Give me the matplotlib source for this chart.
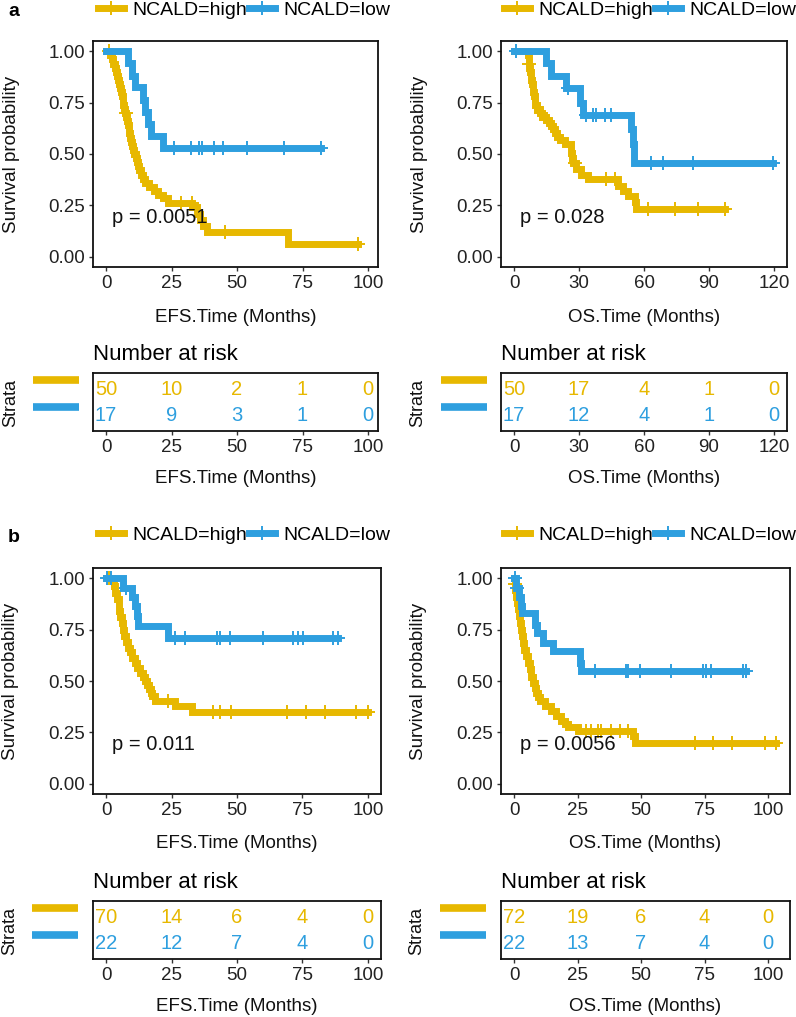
"""Kaplan-Meier curves (EFS / OS) for NCALD high vs low, with number-at-risk tables."""

import matplotlib
matplotlib.use("Agg")
import matplotlib.pyplot as plt
import numpy as np
from matplotlib.lines import Line2D

plt.rcParams["font.family"] = ["Liberation Sans", "DejaVu Sans"]

HIGH = "#E7B800"
LOW = "#2E9FDF"
GROUPS = ["NCALD=high", "NCALD=low"]

# ---- panel a, EFS ----
a_efs_high_t = [0, 1.5, 2.2, 2.8, 3.3, 3.8, 4.2, 4.6, 5.0, 5.3, 5.6, 6.0, 6.3, 6.6, 6.9, 7.2,
                7.6, 7.9, 8.3, 8.6, 8.9, 9.3, 9.7, 10.0, 10.4, 10.8, 11.3, 11.7, 12.2, 12.7,
                13.3, 14.0, 15.0, 16.5, 18.5, 20.0, 21.9, 23.5, 33.0, 34.6, 35.8, 37.1, 38.6,
                69.5, 96.2]
a_efs_high_s = [1.00, 0.98, 0.96, 0.94, 0.92, 0.90, 0.88, 0.86, 0.84, 0.82, 0.80, 0.78, 0.76,
                0.74, 0.72, 0.70, 0.68, 0.66, 0.64, 0.62, 0.60, 0.58, 0.56, 0.54, 0.52, 0.50,
                0.48, 0.46, 0.44, 0.42, 0.40, 0.38, 0.36, 0.34, 0.32, 0.30, 0.285, 0.26, 0.24,
                0.21, 0.18, 0.15, 0.12, 0.06, 0.06]
a_efs_high_cens = [1.0, 7.5, 28.8, 32.7, 45.4, 96.2]
a_efs_low_t = [0, 8.5, 9.8, 11.0, 14.2, 15.0, 16.0, 17.0, 21.6, 82.2]
a_efs_low_s = [1.0, 0.941, 0.882, 0.824, 0.765, 0.706, 0.647, 0.588, 0.529, 0.529]
a_efs_low_cens = [25.9, 32.3, 35.5, 36.8, 41.2, 44.5, 53.9, 67.9, 82.2]

# ---- panel a, OS ----
a_os_high_t = [0, 6.5, 6.7, 6.9, 7.1, 7.4, 7.7, 8.0, 8.3, 8.6, 8.9, 9.2, 9.5, 9.8, 10.5, 11.8,
               13.0, 14.9, 16.0, 17.2, 18.0, 18.8, 20.0, 21.1, 23.4, 26.5, 26.8, 27.2, 28.8,
               31.0, 34.2, 48.0, 50.5, 52.6, 55.7, 56.5, 97.2]
a_os_high_s = [1.0, 0.98, 0.96, 0.94, 0.92, 0.90, 0.88, 0.86, 0.84, 0.82, 0.80, 0.78, 0.76,
               0.74, 0.72, 0.70, 0.68, 0.667, 0.65, 0.635, 0.62, 0.603, 0.585, 0.57, 0.547,
               0.506, 0.48, 0.458, 0.426, 0.40, 0.378, 0.346, 0.32, 0.297, 0.265, 0.233, 0.233]
a_os_high_cens = [6.9, 12.6, 28.0, 42.6, 46.5, 61.8, 74.2, 84.9, 97.2]
a_os_low_t = [0, 14.9, 16.9, 24.0, 30.3, 31.8, 54.2, 54.8, 55.6, 119.5]
a_os_low_s = [1.0, 0.941, 0.882, 0.82, 0.75, 0.69, 0.62, 0.55, 0.458, 0.458]
a_os_low_cens = [1.0, 24.9, 33.4, 36.5, 38.0, 41.8, 44.9, 63.0, 68.8, 82.6, 119.5]

# ---- panel b, EFS ----
b_efs_high_t = [0, 2.2, 3.0, 3.6, 4.3, 4.8, 5.1, 5.5, 6.0, 6.5, 7.0, 7.6, 8.4, 9.1, 10.0,
                11.1, 12.0, 13.0, 14.0, 14.9, 15.7, 16.5, 17.0, 17.4, 18.7, 26.3, 32.7, 100.0]
b_efs_high_s = [1.0, 0.985, 0.96, 0.93, 0.90, 0.87, 0.84, 0.81, 0.78, 0.75, 0.72, 0.69, 0.66,
                0.64, 0.61, 0.59, 0.565, 0.54, 0.52, 0.50, 0.48, 0.46, 0.44, 0.427, 0.403,
                0.379, 0.347, 0.347]
b_efs_high_cens = [0.8, 1.5, 23.8, 40.9, 43.5, 47.9, 68.9, 76.5, 83.5, 95.6, 100.0]
b_efs_low_t = [0, 6.6, 9.8, 11.0, 11.7, 12.4, 23.5, 88.6]
b_efs_low_s = [1.0, 0.955, 0.91, 0.864, 0.818, 0.77, 0.71, 0.71]
b_efs_low_cens = [0.5, 2.0, 7.6, 26.3, 30.1, 42.2, 43.5, 47.3, 60.0, 71.4, 73.3, 75.2, 86.7, 88.6]

# ---- panel b, OS ----
b_os_high_t = [0, 0.2, 0.5, 0.9, 1.3, 1.6, 1.9, 2.3, 2.6, 3.0, 3.5, 4.0, 4.9, 5.5, 6.2, 6.8,
               7.5, 8.1, 8.8, 9.5, 10.1, 12.1, 14.7, 16.7, 18.6, 19.9, 21.3, 25.2, 46.8, 47.8,
               103.0]
b_os_high_s = [1.0, 0.97, 0.944, 0.91, 0.88, 0.85, 0.815, 0.78, 0.75, 0.72, 0.685, 0.65, 0.62,
               0.59, 0.556, 0.52, 0.49, 0.465, 0.444, 0.42, 0.403, 0.379, 0.355, 0.33, 0.306,
               0.29, 0.274, 0.258, 0.23, 0.20, 0.20]
b_os_high_cens = [0.3, 28.5, 30.4, 33.1, 34.4, 38.3, 41.6, 44.9, 71.1, 78.5, 85.8, 98.7, 103.0]
b_os_low_t = [0, 0.9, 1.8, 2.6, 3.3, 8.1, 9.2, 11.4, 15.4, 25.9, 26.5, 91.5]
b_os_low_s = [1.0, 0.955, 0.91, 0.864, 0.83, 0.773, 0.734, 0.685, 0.645, 0.59, 0.548, 0.548]
b_os_low_cens = [0.5, 1.0, 31.8, 44.2, 44.9, 49.5, 61.9, 74.4, 75.7, 77.7, 90.2, 91.5]

# ---- number at risk ----
a_efs_risk_t = [0, 25, 50, 75, 100]
a_efs_risk_high = [50, 10, 2, 1, 0]
a_efs_risk_low = [17, 9, 3, 1, 0]
a_os_risk_t = [0, 30, 60, 90, 120]
a_os_risk_high = [50, 17, 4, 1, 0]
a_os_risk_low = [17, 12, 4, 1, 0]
b_efs_risk_t = [0, 25, 50, 75, 100]
b_efs_risk_high = [70, 14, 6, 4, 0]
b_efs_risk_low = [22, 12, 7, 4, 0]
b_os_risk_t = [0, 25, 50, 75, 100]
b_os_risk_high = [72, 19, 6, 4, 0]
b_os_risk_low = [22, 13, 7, 4, 0]

pvals = ["p = 0.0051", "p = 0.028", "p = 0.011", "p = 0.0056"]

W, H = 796, 1017
LW = 5.0
TEXT = "#111111"
fig = plt.figure(figsize=(W / 100, H / 100), dpi=100)


def px_rect(left, top, width, height):
    return [left / W, (H - top - height) / H, width / W, height / H]


def style_axis(ax):
    for sp in ax.spines.values():
        sp.set_linewidth(1.3)
        sp.set_color(TEXT)
    ax.tick_params(direction="out", length=3.2, width=1.0, color="#333333",
                   labelcolor="#222222", labelsize=13.5, pad=2.5)


def draw_km(ax, t, s, cens, color):
    t = np.asarray(t)
    s = np.asarray(s)
    ax.step(t, s, where="post", color=color, lw=LW, solid_joinstyle="miter")
    # censoring marks sit on the curve at their time
    idx = np.searchsorted(t, cens, side="right") - 1
    ax.plot(cens, s[idx], ls="none", marker="+", ms=10, mew=1.4, color=color)


def make_km(rect, xlim, xticks, curves, pval, xlabel):
    ax = fig.add_axes(rect)
    for (t, s, c), color in zip(curves, (HIGH, LOW)):
        draw_km(ax, t, s, c, color)
    ax.set_xlim(*xlim)
    ax.set_ylim(-0.05, 1.05)
    ax.set_xticks(xticks)
    ax.set_yticks([0, 0.25, 0.5, 0.75, 1.0])
    ax.set_yticklabels(["0.00", "0.25", "0.50", "0.75", "1.00"])
    style_axis(ax)
    ax.text(0.022 * xticks[-1], 0.19, pval, fontsize=14.5, ha="left", va="center", color=TEXT)
    ax.text(-0.285, 0.5, "Survival probability", transform=ax.transAxes, rotation=90,
            ha="center", va="center", fontsize=13.5, color=TEXT)
    ax.annotate(xlabel, xy=(0.5, 0), xycoords="axes fraction", xytext=(0, -36),
                textcoords="offset points", ha="center", va="center", fontsize=13.5,
                color=TEXT)
    return ax


def make_risk(rect, xlim, xticks, high, low, xlabel):
    ax = fig.add_axes(rect)
    ax.set_xlim(*xlim)
    ax.set_ylim(0.42, 2.65)
    for x, n in zip(xticks, high):
        ax.text(x, 2, str(n), color=HIGH, ha="center", va="center", fontsize=14.5)
    for x, n in zip(xticks, low):
        ax.text(x, 1, str(n), color=LOW, ha="center", va="center", fontsize=14.5)
    ax.set_xticks(xticks)
    ax.set_yticks([])
    style_axis(ax)
    ax.annotate("Number at risk", xy=(0, 1), xycoords="axes fraction", xytext=(0, 13),
                textcoords="offset points", ha="left", va="center", fontsize=16)
    ax.annotate(xlabel, xy=(0.5, 0), xycoords="axes fraction", xytext=(0, -34),
                textcoords="offset points", ha="center", va="center", fontsize=13.5,
                color=TEXT)
    ax.text(-0.29, 0.48, "Strata", transform=ax.transAxes, rotation=90, ha="center",
            va="center", fontsize=13, color=TEXT)
    for yf, color in ((0.88, HIGH), (0.41, LOW)):
        ax.add_line(Line2D([-0.21, -0.05], [yf, yf], transform=ax.transAxes, color=color,
                           lw=5.5, solid_capstyle="butt", clip_on=False))
    return ax


def add_legend(cx, cy):
    handles = [Line2D([0], [0], color=c, lw=LW, marker="+", ms=10, mew=1.4)
               for c in (HIGH, LOW)]
    fig.legend(handles, GROUPS, loc="center", bbox_to_anchor=(cx / W, 1 - cy / H), ncol=2,
               frameon=False, fontsize=14, handlelength=1.35, handletextpad=0.4,
               columnspacing=0.12, borderpad=0, borderaxespad=0)


def geometry(zero_px, unit_px, xmax):
    # ggplot-style 5% expansion around [0, xmax]
    lo, hi = -0.05 * xmax, 1.05 * xmax
    return zero_px + lo * unit_px, (hi - lo) * unit_px, (lo, hi)


panels = [
    # x=0 pixel, px per month, max time, ticks, curves, p, xlabel, risk rows, main top, risk top
    (106, 2.62, 99.0, a_efs_risk_t,
     [(a_efs_high_t, a_efs_high_s, a_efs_high_cens), (a_efs_low_t, a_efs_low_s, a_efs_low_cens)],
     pvals[0], "EFS.Time (Months)", (a_efs_risk_high, a_efs_risk_low), 41, 373),
    (514, 2.1667, 120.0, a_os_risk_t,
     [(a_os_high_t, a_os_high_s, a_os_high_cens), (a_os_low_t, a_os_low_s, a_os_low_cens)],
     pvals[1], "OS.Time (Months)", (a_os_risk_high, a_os_risk_low), 41, 373),
    (106, 2.62, 100.0, b_efs_risk_t,
     [(b_efs_high_t, b_efs_high_s, b_efs_high_cens), (b_efs_low_t, b_efs_low_s, b_efs_low_cens)],
     pvals[2], "EFS.Time (Months)", (b_efs_risk_high, b_efs_risk_low), 568, 901),
    (514, 2.54, 103.5, b_os_risk_t,
     [(b_os_high_t, b_os_high_s, b_os_high_cens), (b_os_low_t, b_os_low_s, b_os_low_cens)],
     pvals[3], "OS.Time (Months)", (b_os_risk_high, b_os_risk_low), 568, 901),
]

for zero_px, unit, xmax, xticks, curves, pval, xlabel, risk, top, rtop in panels:
    left, width, xlim = geometry(zero_px, unit, xmax)
    make_km(px_rect(left, top, width, 226), xlim, xticks, curves, pval, xlabel)
    make_risk(px_rect(left, rtop, width, 58), xlim, xticks, risk[0], risk[1], xlabel)

add_legend(244, 10)
add_legend(650, 10)
add_legend(244, 535)
add_legend(650, 535)

fig.text(8 / W, 1 - 12 / H, "a", fontsize=14, fontweight="bold", ha="left", va="center")
fig.text(8 / W, 1 - 537 / H, "b", fontsize=14, fontweight="bold", ha="left", va="center")

fig.savefig("out.png", dpi=100)
